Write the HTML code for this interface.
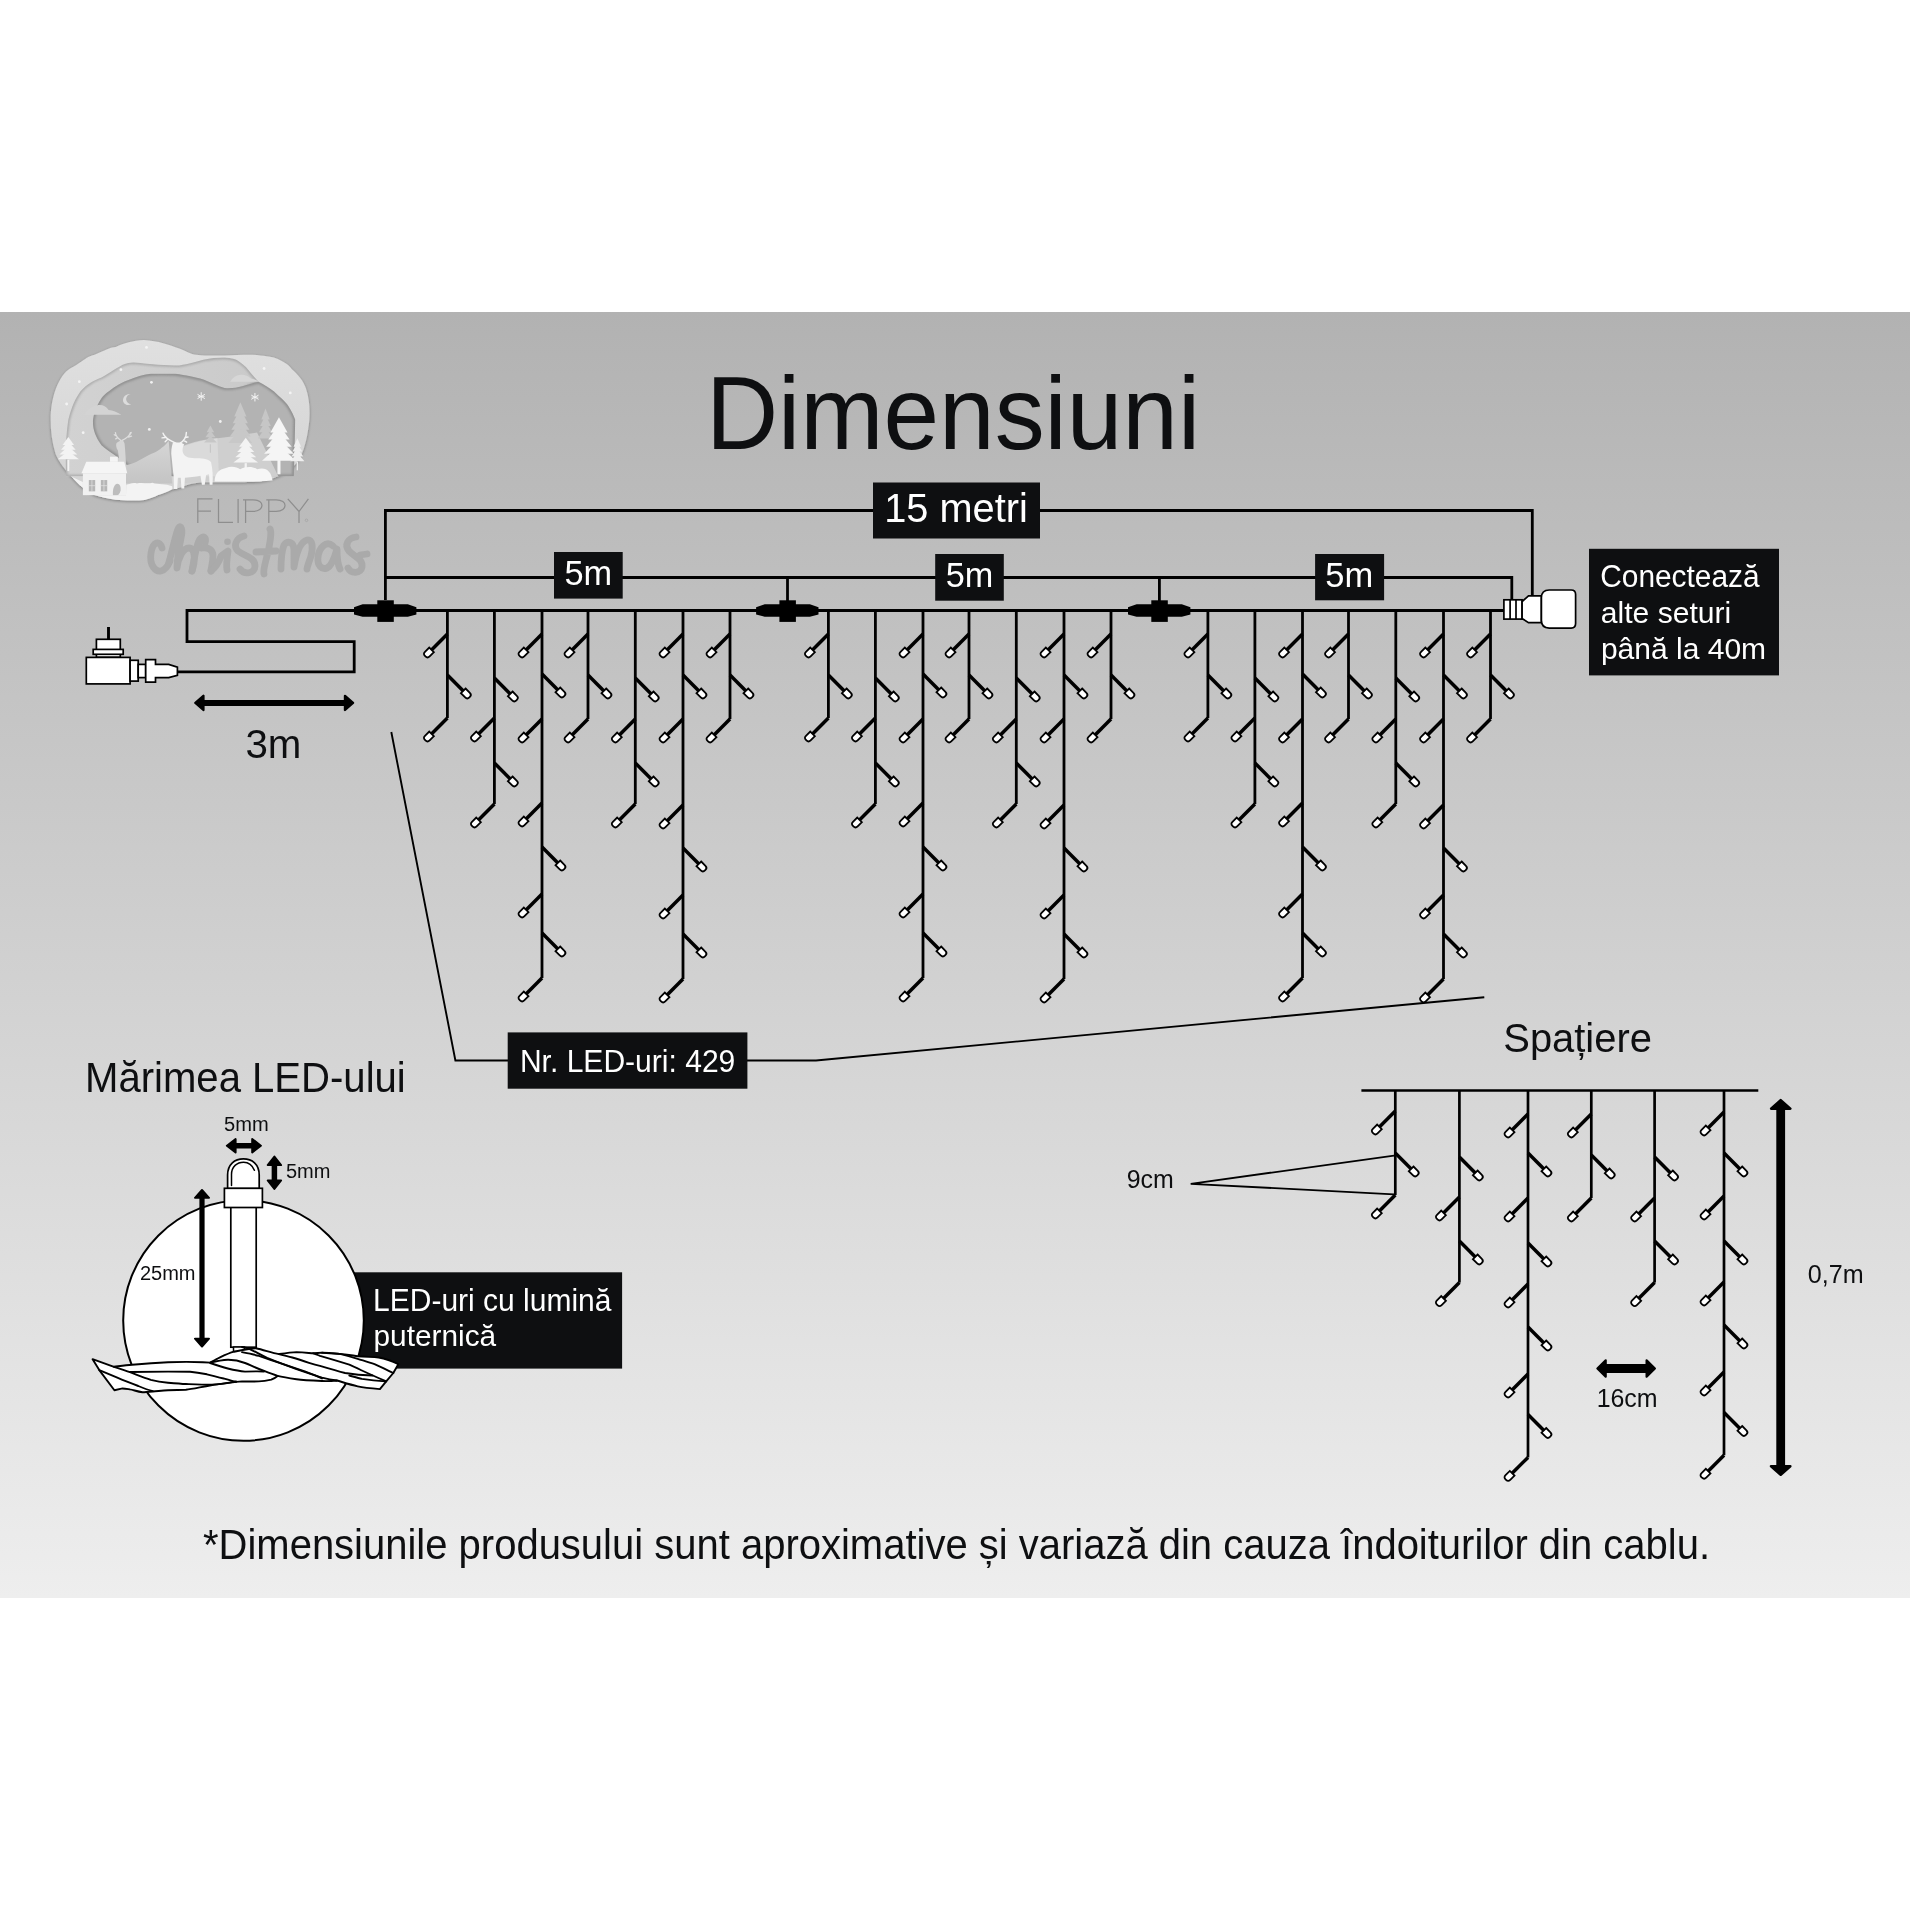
<!DOCTYPE html><html><head><meta charset="utf-8"><style>
html,body{margin:0;padding:0;background:#fff;width:1910px;height:1910px;overflow:hidden}
svg{position:absolute;left:0;top:0;will-change:transform}
text{font-family:"Liberation Sans",sans-serif}
</style></head><body>
<svg width="1910" height="1910" viewBox="0 0 1910 1910">
<defs><linearGradient id="bg" x1="0" y1="0" x2="0" y2="1">
<stop offset="0" stop-color="#b2b2b2"/><stop offset="1" stop-color="#eeeeee"/></linearGradient></defs>
<rect x="0" y="312" width="1910" height="1286" fill="url(#bg)"/>

<g transform="translate(45,335) scale(0.141363)">
<defs><linearGradient id="lg1" x1="0" y1="0" x2="0" y2="1"><stop offset="0" stop-color="#e0e0e0"/><stop offset="1" stop-color="#d2d2d2"/></linearGradient><linearGradient id="lg2" x1="0" y1="0" x2="1" y2="0"><stop offset="0" stop-color="#d2d2d2"/><stop offset="1" stop-color="#cacaca"/></linearGradient><linearGradient id="lg4" x1="0" y1="0" x2="0" y2="1"><stop offset="0" stop-color="#d6d6d6"/><stop offset="1" stop-color="#c4c4c4"/></linearGradient><filter id="blr" x="-20%" y="-20%" width="140%" height="140%"><feGaussianBlur stdDeviation="9"/></filter><filter id="osh" x="-10%" y="-10%" width="120%" height="120%"><feGaussianBlur in="SourceAlpha" stdDeviation="10"/><feOffset dx="0" dy="8"/><feComponentTransfer><feFuncA type="linear" slope="0.35"/></feComponentTransfer><feMerge><feMergeNode/><feMergeNode in="SourceGraphic"/></feMerge></filter></defs>
<path filter="url(#osh)" fill="url(#lg1)" d="M40,600 C40,420 110,260 200,225 C260,190 300,150 350,140 C420,110 470,85 500,85 C560,55 620,40 700,35 C800,40 880,70 950,95 C1000,115 1030,135 1070,140 C1150,148 1210,145 1270,145 C1350,142 1420,138 1470,140 C1550,145 1600,155 1620,160 C1700,190 1730,220 1745,240 C1800,290 1830,330 1845,375 C1870,450 1875,520 1870,600 C1860,700 1845,760 1830,806 C1810,860 1790,890 1770,916 C1740,950 1710,975 1670,991 C1620,1015 1570,1030 1520,1036 C1450,1041 1400,1041 1370,1041 C1250,1041 1180,1041 1120,1041 C1050,1045 1000,1060 970,1076 C940,1085 920,1090 900,1091 C860,1110 830,1125 800,1131 C740,1160 700,1170 650,1171 C580,1172 540,1170 500,1166 C440,1155 400,1145 350,1131 C280,1100 240,1060 200,1016 C140,950 100,900 75,841 C50,760 40,680 40,600 Z"/>
<clipPath id="cpl1"><path d="M40,600 C40,420 110,260 200,225 C260,190 300,150 350,140 C420,110 470,85 500,85 C560,55 620,40 700,35 C800,40 880,70 950,95 C1000,115 1030,135 1070,140 C1150,148 1210,145 1270,145 C1350,142 1420,138 1470,140 C1550,145 1600,155 1620,160 C1700,190 1730,220 1745,240 C1800,290 1830,330 1845,375 C1870,450 1875,520 1870,600 C1860,700 1845,760 1830,806 C1810,860 1790,890 1770,916 C1740,950 1710,975 1670,991 C1620,1015 1570,1030 1520,1036 C1450,1041 1400,1041 1370,1041 C1250,1041 1180,1041 1120,1041 C1050,1045 1000,1060 970,1076 C940,1085 920,1090 900,1091 C860,1110 830,1125 800,1131 C740,1160 700,1170 650,1171 C580,1172 540,1170 500,1166 C440,1155 400,1145 350,1131 C280,1100 240,1060 200,1016 C140,950 100,900 75,841 C50,760 40,680 40,600 Z"/></clipPath>
<clipPath id="cpb"><path d="M150,1000 C140,850 150,700 165,600 C190,500 215,450 250,400 C300,340 350,320 400,300 C470,260 510,230 550,210 C580,200 600,195 625,195 C700,200 750,208 800,210 C860,213 900,215 950,215 C1020,205 1070,190 1120,175 C1180,165 1230,158 1270,160 C1320,165 1350,172 1370,185 C1410,210 1440,245 1460,275 L1510,330 L1400,380 L1000,1000 Z"/></clipPath>
<path fill="url(#lg2)" d="M150,1000 C140,850 150,700 165,600 C190,500 215,450 250,400 C300,340 350,320 400,300 C470,260 510,230 550,210 C580,200 600,195 625,195 C700,200 750,208 800,210 C860,213 900,215 950,215 C1020,205 1070,190 1120,175 C1180,165 1230,158 1270,160 C1320,165 1350,172 1370,185 C1410,210 1440,245 1460,275 L1510,330 L1400,380 L1000,1000 Z"/>
<g clip-path="url(#cpb)"><path d="M150,1000 C140,850 150,700 165,600 C190,500 215,450 250,400 C300,340 350,320 400,300 C470,260 510,230 550,210 C580,200 600,195 625,195 C700,200 750,208 800,210 C860,213 900,215 950,215 C1020,205 1070,190 1120,175 C1180,165 1230,158 1270,160 C1320,165 1350,172 1370,185 C1410,210 1440,245 1460,275 L1510,330 L1400,380 L1000,1000 Z" fill="none" stroke="#8c8c8c" stroke-width="22" filter="url(#blr)" opacity="0.55"/></g>
<clipPath id="cps"><path d="M590,930 C540,870 450,830 400,780 C355,720 335,660 340,600 C350,540 360,510 375,490 C400,440 420,420 450,400 C500,360 550,330 600,315 C650,295 700,280 750,275 C820,272 880,274 920,275 C1000,285 1060,300 1120,315 C1170,335 1220,360 1270,375 C1350,385 1430,350 1510,330 C1550,350 1590,375 1620,400 C1660,440 1700,470 1720,500 C1745,540 1760,570 1770,600 L1760,1000 L900,1000 Z"/></clipPath>
<path fill="#b3b3b3" d="M590,930 C540,870 450,830 400,780 C355,720 335,660 340,600 C350,540 360,510 375,490 C400,440 420,420 450,400 C500,360 550,330 600,315 C650,295 700,280 750,275 C820,272 880,274 920,275 C1000,285 1060,300 1120,315 C1170,335 1220,360 1270,375 C1350,385 1430,350 1510,330 C1550,350 1590,375 1620,400 C1660,440 1700,470 1720,500 C1745,540 1760,570 1770,600 L1760,1000 L900,1000 Z"/>
<g clip-path="url(#cps)"><path d="M590,930 C540,870 450,830 400,780 C355,720 335,660 340,600 C350,540 360,510 375,490 C400,440 420,420 450,400 C500,360 550,330 600,315 C650,295 700,280 750,275 C820,272 880,274 920,275 C1000,285 1060,300 1120,315 C1170,335 1220,360 1270,375 C1350,385 1430,350 1510,330 C1550,350 1590,375 1620,400 C1660,440 1700,470 1720,500 C1745,540 1760,570 1770,600 L1760,1000 L900,1000 Z" fill="none" stroke="#7a7a7a" stroke-width="26" filter="url(#blr)" opacity="0.6"/></g>
<path fill="#d3d3d3" d="M275,565 C300,530 330,500 370,497 C400,490 430,500 450,530 C480,530 510,545 540,565 Z"/>
<path fill="#d7d7d7" d="M1310,330 C1330,300 1350,285 1380,282 C1420,280 1440,295 1460,310 C1480,312 1500,320 1510,330 Z"/>
<path fill="#dcdcdc" d="M605,418 C560,415 545,455 555,475 C565,495 590,500 610,490 C585,485 570,465 575,445 C580,430 590,422 605,418 Z"/>
<line x1="1105.0" y1="405.0" x2="1105.0" y2="465.0" stroke="#f4f4f4" stroke-width="7"/>
<line x1="1131.0" y1="420.0" x2="1079.0" y2="450.0" stroke="#f4f4f4" stroke-width="7"/>
<line x1="1131.0" y1="450.0" x2="1079.0" y2="420.0" stroke="#f4f4f4" stroke-width="7"/>
<line x1="1081.0" y1="435" x2="1129.0" y2="435" stroke="#f4f4f4" stroke-width="5"/>
<line x1="1485.0" y1="410.0" x2="1485.0" y2="470.0" stroke="#f4f4f4" stroke-width="7"/>
<line x1="1511.0" y1="425.0" x2="1459.0" y2="455.0" stroke="#f4f4f4" stroke-width="7"/>
<line x1="1511.0" y1="455.0" x2="1459.0" y2="425.0" stroke="#f4f4f4" stroke-width="7"/>
<line x1="1461.0" y1="440" x2="1509.0" y2="440" stroke="#f4f4f4" stroke-width="5"/>
<circle cx="718" cy="88" r="10" fill="#f4f4f4" opacity="0.95"/>
<circle cx="537" cy="245" r="10" fill="#f4f4f4" opacity="0.95"/>
<circle cx="243" cy="330" r="10" fill="#f4f4f4" opacity="0.95"/>
<circle cx="753" cy="335" r="10" fill="#f4f4f4" opacity="0.95"/>
<circle cx="153" cy="488" r="10" fill="#f4f4f4" opacity="0.95"/>
<circle cx="1550" cy="237" r="10" fill="#f4f4f4" opacity="0.95"/>
<circle cx="1735" cy="410" r="10" fill="#f4f4f4" opacity="0.95"/>
<circle cx="1240" cy="612" r="10" fill="#f4f4f4" opacity="0.95"/>
<circle cx="738" cy="668" r="10" fill="#f4f4f4" opacity="0.95"/>
<circle cx="270" cy="691" r="10" fill="#f4f4f4" opacity="0.95"/>
<path fill="url(#lg4)" d="M480,1000 C520,940 560,925 600,915 C660,900 720,850 780,830 C830,800 860,770 875,750 L900,1050 L480,1050 Z"/>
<path fill="#cfcfcf" d="M950,800 C1000,770 1100,740 1220,731 C1320,720 1420,700 1500,690 L1650,1000 L950,1050 Z"/>
<path fill="#dadada" d="M970,791 C1050,760 1150,740 1220,731 L1230,1000 L980,1000 C960,950 950,880 970,791 Z"/>
<path fill="#c8c8c8" d="M1382,475.0 L1424.84,577.0 L1405.562,577.0 L1358.438,577.0 L1339.16,577.0 Z"/><path fill="#c8c8c8" d="M1382,521.8 L1435.38,623.8 L1411.359,623.8 L1352.641,623.8 L1328.62,623.8 Z"/><path fill="#c8c8c8" d="M1382,568.6 L1445.92,670.6 L1417.156,670.6 L1346.844,670.6 L1318.08,670.6 Z"/><path fill="#c8c8c8" d="M1382,615.4 L1456.46,717.4 L1422.953,717.4 L1341.047,717.4 L1307.54,717.4 Z"/><path fill="#c8c8c8" d="M1382,662.2 L1467.0,764.2 L1428.75,764.2 L1335.25,764.2 L1297.0,764.2 Z"/>
<path fill="#c6c6c6" d="M1560,520.0 L1589.425,598.2 L1576.18375,598.2 L1543.81625,598.2 L1530.575,598.2 Z"/><path fill="#c6c6c6" d="M1560,564.85 L1597.95,643.0500000000001 L1580.8725,643.0500000000001 L1539.1275,643.0500000000001 L1522.05,643.0500000000001 Z"/><path fill="#c6c6c6" d="M1560,609.7 L1606.475,687.9000000000001 L1585.56125,687.9000000000001 L1534.43875,687.9000000000001 L1513.525,687.9000000000001 Z"/><path fill="#c6c6c6" d="M1560,654.55 L1615.0,732.75 L1590.25,732.75 L1529.75,732.75 L1505.0,732.75 Z"/>
<path fill="#c7c7c7" d="M1170,640.0 L1196.4,687.6 L1184.52,687.6 L1155.48,687.6 L1143.6,687.6 Z"/><path fill="#c7c7c7" d="M1170,676.4 L1205.7,724.0 L1189.635,724.0 L1150.365,724.0 L1134.3,724.0 Z"/><path fill="#c7c7c7" d="M1170,712.8 L1215.0,760.4 L1194.75,760.4 L1145.25,760.4 L1125.0,760.4 Z"/><rect fill="#c7c7c7" x="1165.95" y="773.0" width="8.1" height="60"/>
<path fill="#f3f3f3" d="M165,721.0 L205.125,778.8 L187.06875,778.8 L142.93125,778.8 L124.875,778.8 Z"/><path fill="#f3f3f3" d="M165,754.15 L216.75,811.9499999999999 L193.4625,811.9499999999999 L136.5375,811.9499999999999 L113.25,811.9499999999999 Z"/><path fill="#f3f3f3" d="M165,787.3 L228.375,845.0999999999999 L199.85625,845.0999999999999 L130.14375,845.0999999999999 L101.625,845.0999999999999 Z"/><path fill="#f3f3f3" d="M165,820.45 L240.0,878.25 L206.25,878.25 L123.75,878.25 L90.0,878.25 Z"/><rect fill="#f3f3f3" x="158.25" y="882.5" width="13.5" height="80"/>
<path fill="#f3f3f3" d="M1420,726.0 L1466.8125,790.6 L1445.746875,790.6 L1394.253125,790.6 L1373.1875,790.6 Z"/><path fill="#f3f3f3" d="M1420,763.05 L1480.375,827.65 L1453.20625,827.65 L1386.79375,827.65 L1359.625,827.65 Z"/><path fill="#f3f3f3" d="M1420,800.1 L1493.9375,864.7 L1460.665625,864.7 L1379.334375,864.7 L1346.0625,864.7 Z"/><path fill="#f3f3f3" d="M1420,837.15 L1507.5,901.75 L1468.125,901.75 L1371.875,901.75 L1332.5,901.75 Z"/><rect fill="#f3f3f3" x="1412.125" y="906.5" width="15.75" height="90"/>
<path fill="#f5f5f5" d="M1655,581.0 L1715.48,689.8 L1688.264,689.8 L1621.736,689.8 L1594.52,689.8 Z"/><path fill="#f5f5f5" d="M1655,630.92 L1730.36,739.72 L1696.448,739.72 L1613.552,739.72 L1579.64,739.72 Z"/><path fill="#f5f5f5" d="M1655,680.84 L1745.24,789.6400000000001 L1704.632,789.6400000000001 L1605.368,789.6400000000001 L1564.76,789.6400000000001 Z"/><path fill="#f5f5f5" d="M1655,730.76 L1760.12,839.56 L1712.816,839.56 L1597.184,839.56 L1549.88,839.56 Z"/><path fill="#f5f5f5" d="M1655,780.6800000000001 L1775.0,889.48 L1721.0,889.48 L1589.0,889.48 L1535.0,889.48 Z"/><rect fill="#f5f5f5" x="1644.2" y="885.0" width="21.599999999999998" height="100"/>
<path fill="#efefef" d="M1785,731.0 L1811.75,790.5 L1799.7125,790.5 L1770.2875,790.5 L1758.25,790.5 Z"/><path fill="#efefef" d="M1785,765.125 L1819.5,824.625 L1803.975,824.625 L1766.025,824.625 L1750.5,824.625 Z"/><path fill="#efefef" d="M1785,799.25 L1827.25,858.75 L1808.2375,858.75 L1761.7625,858.75 L1742.75,858.75 Z"/><path fill="#efefef" d="M1785,833.375 L1835.0,892.875 L1812.5,892.875 L1757.5,892.875 L1735.0,892.875 Z"/><rect fill="#efefef" x="1780.5" y="897.25" width="9.0" height="60"/>
<path fill="#d6d6d6" d="M520,916 C525,880 520,840 515,816 C505,800 500,780 505,765 C515,755 530,750 540,745 C555,745 565,760 565,790 C568,830 572,880 575,950 L520,960 Z"/>
<g fill="none" stroke="#dedede" stroke-width="9" stroke-linecap="round"><path d="M535,745 C515,730 500,715 498,690 M505,715 L490,705 M512,728 L500,735"/><path d="M545,745 C570,735 595,720 605,690 M590,722 L612,715 M598,708 L610,690"/></g>
<path fill="#f3f3f3" d="M905,760 C895,790 890,830 895,860 C900,900 905,960 910,1000 L912,1090 L935,1090 L940,1010 L960,1010 L965,1085 L985,1085 L990,1010 C1040,1005 1080,1000 1100,995 L1110,1060 L1130,1060 L1140,990 L1160,985 L1165,1060 L1185,1060 C1190,1000 1185,950 1175,900 C1160,880 1120,870 1060,872 C1010,872 985,860 975,830 C970,810 975,790 985,775 C975,765 960,760 945,760 Z"/>
<g fill="none" stroke="#f3f3f3" stroke-width="10" stroke-linecap="round"><path d="M925,765 C890,750 845,730 835,695 M850,725 L828,728 M868,738 L850,755"/><path d="M955,765 C990,745 1000,720 1000,690 M990,725 L1012,722 M980,745 L1002,758"/></g>
<path fill="#f5f5f5" d="M258,978 L292,896 L560,896 L582,978 Z"/>
<rect fill="#f5f5f5" x="460" y="861" width="55" height="36"/>
<rect fill="#f1f1f1" x="268" y="978" width="305" height="155"/>
<g fill="#b6b6b6"><rect x="310" y="1026" width="45" height="80"/><rect x="395" y="1026" width="45" height="80"/></g>
<g stroke="#e6e6e6" stroke-width="5"><line x1="332" y1="1026" x2="332" y2="1106"/><line x1="310" y1="1066" x2="355" y2="1066"/><line x1="417" y1="1026" x2="417" y2="1106"/><line x1="395" y1="1066" x2="440" y2="1066"/></g>
<path fill="#bdbdbd" d="M482,1146 C475,1090 490,1055 512,1053 C530,1053 538,1075 535,1100 C530,1125 515,1135 500,1140 Z"/>
<g clip-path="url(#cpl1)"><path fill="#f3f3f3" d="M180,1000 L268,1040 L268,1133 L573,1133 L575,1060 C600,1055 620,1040 650,1050 C690,1040 720,1055 760,1045 C800,1060 850,1050 900,1070 L905,1250 L150,1250 Z"/></g>
<path fill="#f6f6f6" d="M1200,1036 C1200,980 1230,950 1280,940 C1320,925 1360,935 1380,950 C1420,925 1480,930 1500,950 C1560,930 1600,960 1610,1030 L1520,1036 Z"/>
</g>
<g fill="none" stroke="#8e8e8e" stroke-width="1.25" stroke-linecap="butt"><path d="M197.8,522.9 V498.9 H212.5 M197.8,511.2 H211"/><path d="M218.5,498.9 V522.3 H233"/><path d="M238.1,498.9 V522.9"/><path d="M245.6,522.9 V500.5 M243,499.8 H253 C265,499.8 265,511.3 253,511.3 H246.2"/><path d="M268.8,522.9 V500.5 M266.3,499.8 H276.2 C288,499.8 288,511.3 276.2,511.3 H269.4"/><path d="M287.8,498.9 L299,511.5 L308.4,498.9 M299,511.5 V522.9"/></g>
<circle cx="306.5" cy="520.3" r="1.3" fill="none" stroke="#999" stroke-width="0.5"/>
<g fill="none" stroke="#aaaaaa" stroke-width="6.8" stroke-linecap="round" stroke-linejoin="round"><path d="M162,548 C160,540 153,541 151,553 C149,566 156,572 161,571 C165,570 168,566 170,561"/><path d="M169,562 C173,548 176,532 178.5,528 C181,524 183,530 181,538 C179,548 177,560 177,568 C178,558 183,548 189,548 C194,548 195,556 194,563 C193,568 192,571 192,571"/><path d="M192,571 C194,560 196,545 200,539 C203,535 207,537 205,543 C203,547 200,548 202,548 C207,547 213,549 213,556 C213,562 211,568 211,571"/><path d="M211,571 C215,568 219,562 221,556 L228,551 C227,558 226,565 227,570"/><path d="M244,536 C236,538 233,546 238,551 C244,556 255,557 255,566 C255,574 244,575 240,569"/><path d="M270,529 C272,531 270,545 267,556 C265,564 263,570 264,574 M256,552 L276,551"/><path d="M281,569 C281,560 282,550 284,545 C288,540 294,542 294,550 L294,567 C296,555 300,542 307,540 C313,539 313,548 311,556 C309,562 307,567 307,569"/><path d="M333,546 C326,540 319,548 318,557 C317,566 322,570 327,568 C332,566 335,556 337,549 C337,556 337,563 340,569"/><path d="M356,537 C348,538 344,545 349,551 C355,557 363,559 362,567 C361,574 351,574 348,568 M360,555 L367,554"/></g>
<circle cx="227.5" cy="541.7" r="3.3" fill="#aaaaaa"/>
<text transform="translate(705.90,448.80) scale(0.99937,1.03935)" font-size="100" fill="#0e0f11" >Dimensiuni</text>
<path d="M385.4,600 V510.5 H1532.3 V596" fill="none" stroke="#000" stroke-width="2.8"/>
<rect x="873" y="482.5" width="167" height="56" fill="#0e0f11"/>
<text transform="translate(884.17,522.10) scale(0.39756,0.39756)" font-size="100" fill="#fff" >15 metri</text>
<path d="M385.4,577.5 H1511.8 V600" fill="none" stroke="#000" stroke-width="2.8"/>
<line x1="787.5" y1="577.5" x2="787.5" y2="605" stroke="#000" stroke-width="2.8"/>
<line x1="1159.4" y1="577.5" x2="1159.4" y2="605" stroke="#000" stroke-width="2.8"/>
<rect x="554" y="552" width="68.7" height="46.6" fill="#0e0f11"/>
<rect x="935.2" y="554" width="68.6" height="46.7" fill="#0e0f11"/>
<rect x="1315.1" y="554" width="69.0" height="46.3" fill="#0e0f11"/>
<text transform="translate(564.53,585.00) scale(0.34341,0.34341)" font-size="100" fill="#fff" >5m</text>
<text transform="translate(945.63,587.10) scale(0.34264,0.34264)" font-size="100" fill="#fff" >5m</text>
<text transform="translate(1325.32,587.00) scale(0.34496,0.34496)" font-size="100" fill="#fff" >5m</text>
<path d="M177,671.8 H354.2 V641.6 H187 V610.5 H1504" fill="none" stroke="#000" stroke-width="2.8"/>
<path d="M354.0,607.2 L362.59999999999997,604.3 H407.79999999999995 L416.4,607.2 V614.5 L407.79999999999995,616.8 H362.59999999999997 L354.0,614.5 Z" fill="#000"/><rect x="377.29999999999995" y="600.3" width="16.5" height="21.6" fill="#000"/>
<path d="M756.1,607.2 L764.7,604.3 H809.9 L818.5,607.2 V614.5 L809.9,616.8 H764.7 L756.1,614.5 Z" fill="#000"/><rect x="779.4" y="600.3" width="16.5" height="21.6" fill="#000"/>
<path d="M1128.0,607.2 L1136.6000000000001,604.3 H1181.8000000000002 L1190.4,607.2 V614.5 L1181.8000000000002,616.8 H1136.6000000000001 L1128.0,614.5 Z" fill="#000"/><rect x="1151.3000000000002" y="600.3" width="16.5" height="21.6" fill="#000"/>
<line x1="447.4" y1="610" x2="447.4" y2="718" stroke="#000" stroke-width="2.8"/><g transform="translate(447.40,634.00) rotate(135)"><line x1="0" y1="0" x2="22.50" y2="0" stroke="#000" stroke-width="3.50"/><path d="M22.40,-3.30 H28.43 Q31.40,-3.30 31.40,-0.33 V0.33 Q31.40,3.30 28.43,3.30 H22.40 Z" fill="#fff" stroke="#000" stroke-width="1.80"/></g><g transform="translate(447.40,675.00) rotate(45)"><line x1="0" y1="0" x2="22.50" y2="0" stroke="#000" stroke-width="3.50"/><path d="M22.40,-3.30 H28.43 Q31.40,-3.30 31.40,-0.33 V0.33 Q31.40,3.30 28.43,3.30 H22.40 Z" fill="#fff" stroke="#000" stroke-width="1.80"/></g><g transform="translate(447.40,718.00) rotate(135)"><line x1="0" y1="0" x2="22.50" y2="0" stroke="#000" stroke-width="3.50"/><path d="M22.40,-3.30 H28.43 Q31.40,-3.30 31.40,-0.33 V0.33 Q31.40,3.30 28.43,3.30 H22.40 Z" fill="#fff" stroke="#000" stroke-width="1.80"/></g>
<line x1="494.4" y1="610" x2="494.4" y2="804" stroke="#000" stroke-width="2.8"/><g transform="translate(494.40,678.00) rotate(45)"><line x1="0" y1="0" x2="22.50" y2="0" stroke="#000" stroke-width="3.50"/><path d="M22.40,-3.30 H28.43 Q31.40,-3.30 31.40,-0.33 V0.33 Q31.40,3.30 28.43,3.30 H22.40 Z" fill="#fff" stroke="#000" stroke-width="1.80"/></g><g transform="translate(494.40,718.00) rotate(135)"><line x1="0" y1="0" x2="22.50" y2="0" stroke="#000" stroke-width="3.50"/><path d="M22.40,-3.30 H28.43 Q31.40,-3.30 31.40,-0.33 V0.33 Q31.40,3.30 28.43,3.30 H22.40 Z" fill="#fff" stroke="#000" stroke-width="1.80"/></g><g transform="translate(494.40,763.00) rotate(45)"><line x1="0" y1="0" x2="22.50" y2="0" stroke="#000" stroke-width="3.50"/><path d="M22.40,-3.30 H28.43 Q31.40,-3.30 31.40,-0.33 V0.33 Q31.40,3.30 28.43,3.30 H22.40 Z" fill="#fff" stroke="#000" stroke-width="1.80"/></g><g transform="translate(494.40,804.00) rotate(135)"><line x1="0" y1="0" x2="22.50" y2="0" stroke="#000" stroke-width="3.50"/><path d="M22.40,-3.30 H28.43 Q31.40,-3.30 31.40,-0.33 V0.33 Q31.40,3.30 28.43,3.30 H22.40 Z" fill="#fff" stroke="#000" stroke-width="1.80"/></g>
<line x1="542" y1="610" x2="542" y2="978" stroke="#000" stroke-width="2.8"/><g transform="translate(542.00,634.00) rotate(135)"><line x1="0" y1="0" x2="22.50" y2="0" stroke="#000" stroke-width="3.50"/><path d="M22.40,-3.30 H28.43 Q31.40,-3.30 31.40,-0.33 V0.33 Q31.40,3.30 28.43,3.30 H22.40 Z" fill="#fff" stroke="#000" stroke-width="1.80"/></g><g transform="translate(542.00,674.00) rotate(45)"><line x1="0" y1="0" x2="22.50" y2="0" stroke="#000" stroke-width="3.50"/><path d="M22.40,-3.30 H28.43 Q31.40,-3.30 31.40,-0.33 V0.33 Q31.40,3.30 28.43,3.30 H22.40 Z" fill="#fff" stroke="#000" stroke-width="1.80"/></g><g transform="translate(542.00,719.00) rotate(135)"><line x1="0" y1="0" x2="22.50" y2="0" stroke="#000" stroke-width="3.50"/><path d="M22.40,-3.30 H28.43 Q31.40,-3.30 31.40,-0.33 V0.33 Q31.40,3.30 28.43,3.30 H22.40 Z" fill="#fff" stroke="#000" stroke-width="1.80"/></g><g transform="translate(542.00,803.00) rotate(135)"><line x1="0" y1="0" x2="22.50" y2="0" stroke="#000" stroke-width="3.50"/><path d="M22.40,-3.30 H28.43 Q31.40,-3.30 31.40,-0.33 V0.33 Q31.40,3.30 28.43,3.30 H22.40 Z" fill="#fff" stroke="#000" stroke-width="1.80"/></g><g transform="translate(542.00,847.00) rotate(45)"><line x1="0" y1="0" x2="22.50" y2="0" stroke="#000" stroke-width="3.50"/><path d="M22.40,-3.30 H28.43 Q31.40,-3.30 31.40,-0.33 V0.33 Q31.40,3.30 28.43,3.30 H22.40 Z" fill="#fff" stroke="#000" stroke-width="1.80"/></g><g transform="translate(542.00,894.00) rotate(135)"><line x1="0" y1="0" x2="22.50" y2="0" stroke="#000" stroke-width="3.50"/><path d="M22.40,-3.30 H28.43 Q31.40,-3.30 31.40,-0.33 V0.33 Q31.40,3.30 28.43,3.30 H22.40 Z" fill="#fff" stroke="#000" stroke-width="1.80"/></g><g transform="translate(542.00,933.00) rotate(45)"><line x1="0" y1="0" x2="22.50" y2="0" stroke="#000" stroke-width="3.50"/><path d="M22.40,-3.30 H28.43 Q31.40,-3.30 31.40,-0.33 V0.33 Q31.40,3.30 28.43,3.30 H22.40 Z" fill="#fff" stroke="#000" stroke-width="1.80"/></g><g transform="translate(542.00,978.00) rotate(135)"><line x1="0" y1="0" x2="22.50" y2="0" stroke="#000" stroke-width="3.50"/><path d="M22.40,-3.30 H28.43 Q31.40,-3.30 31.40,-0.33 V0.33 Q31.40,3.30 28.43,3.30 H22.40 Z" fill="#fff" stroke="#000" stroke-width="1.80"/></g>
<line x1="588" y1="610" x2="588" y2="719" stroke="#000" stroke-width="2.8"/><g transform="translate(588.00,634.00) rotate(135)"><line x1="0" y1="0" x2="22.50" y2="0" stroke="#000" stroke-width="3.50"/><path d="M22.40,-3.30 H28.43 Q31.40,-3.30 31.40,-0.33 V0.33 Q31.40,3.30 28.43,3.30 H22.40 Z" fill="#fff" stroke="#000" stroke-width="1.80"/></g><g transform="translate(588.00,675.00) rotate(45)"><line x1="0" y1="0" x2="22.50" y2="0" stroke="#000" stroke-width="3.50"/><path d="M22.40,-3.30 H28.43 Q31.40,-3.30 31.40,-0.33 V0.33 Q31.40,3.30 28.43,3.30 H22.40 Z" fill="#fff" stroke="#000" stroke-width="1.80"/></g><g transform="translate(588.00,719.00) rotate(135)"><line x1="0" y1="0" x2="22.50" y2="0" stroke="#000" stroke-width="3.50"/><path d="M22.40,-3.30 H28.43 Q31.40,-3.30 31.40,-0.33 V0.33 Q31.40,3.30 28.43,3.30 H22.40 Z" fill="#fff" stroke="#000" stroke-width="1.80"/></g>
<line x1="635.3" y1="610" x2="635.3" y2="804" stroke="#000" stroke-width="2.8"/><g transform="translate(635.30,678.00) rotate(45)"><line x1="0" y1="0" x2="22.50" y2="0" stroke="#000" stroke-width="3.50"/><path d="M22.40,-3.30 H28.43 Q31.40,-3.30 31.40,-0.33 V0.33 Q31.40,3.30 28.43,3.30 H22.40 Z" fill="#fff" stroke="#000" stroke-width="1.80"/></g><g transform="translate(635.30,719.00) rotate(135)"><line x1="0" y1="0" x2="22.50" y2="0" stroke="#000" stroke-width="3.50"/><path d="M22.40,-3.30 H28.43 Q31.40,-3.30 31.40,-0.33 V0.33 Q31.40,3.30 28.43,3.30 H22.40 Z" fill="#fff" stroke="#000" stroke-width="1.80"/></g><g transform="translate(635.30,763.00) rotate(45)"><line x1="0" y1="0" x2="22.50" y2="0" stroke="#000" stroke-width="3.50"/><path d="M22.40,-3.30 H28.43 Q31.40,-3.30 31.40,-0.33 V0.33 Q31.40,3.30 28.43,3.30 H22.40 Z" fill="#fff" stroke="#000" stroke-width="1.80"/></g><g transform="translate(635.30,804.00) rotate(135)"><line x1="0" y1="0" x2="22.50" y2="0" stroke="#000" stroke-width="3.50"/><path d="M22.40,-3.30 H28.43 Q31.40,-3.30 31.40,-0.33 V0.33 Q31.40,3.30 28.43,3.30 H22.40 Z" fill="#fff" stroke="#000" stroke-width="1.80"/></g>
<line x1="683" y1="610" x2="683" y2="979" stroke="#000" stroke-width="2.8"/><g transform="translate(683.00,634.00) rotate(135)"><line x1="0" y1="0" x2="22.50" y2="0" stroke="#000" stroke-width="3.50"/><path d="M22.40,-3.30 H28.43 Q31.40,-3.30 31.40,-0.33 V0.33 Q31.40,3.30 28.43,3.30 H22.40 Z" fill="#fff" stroke="#000" stroke-width="1.80"/></g><g transform="translate(683.00,675.00) rotate(45)"><line x1="0" y1="0" x2="22.50" y2="0" stroke="#000" stroke-width="3.50"/><path d="M22.40,-3.30 H28.43 Q31.40,-3.30 31.40,-0.33 V0.33 Q31.40,3.30 28.43,3.30 H22.40 Z" fill="#fff" stroke="#000" stroke-width="1.80"/></g><g transform="translate(683.00,719.00) rotate(135)"><line x1="0" y1="0" x2="22.50" y2="0" stroke="#000" stroke-width="3.50"/><path d="M22.40,-3.30 H28.43 Q31.40,-3.30 31.40,-0.33 V0.33 Q31.40,3.30 28.43,3.30 H22.40 Z" fill="#fff" stroke="#000" stroke-width="1.80"/></g><g transform="translate(683.00,805.00) rotate(135)"><line x1="0" y1="0" x2="22.50" y2="0" stroke="#000" stroke-width="3.50"/><path d="M22.40,-3.30 H28.43 Q31.40,-3.30 31.40,-0.33 V0.33 Q31.40,3.30 28.43,3.30 H22.40 Z" fill="#fff" stroke="#000" stroke-width="1.80"/></g><g transform="translate(683.00,848.00) rotate(45)"><line x1="0" y1="0" x2="22.50" y2="0" stroke="#000" stroke-width="3.50"/><path d="M22.40,-3.30 H28.43 Q31.40,-3.30 31.40,-0.33 V0.33 Q31.40,3.30 28.43,3.30 H22.40 Z" fill="#fff" stroke="#000" stroke-width="1.80"/></g><g transform="translate(683.00,895.00) rotate(135)"><line x1="0" y1="0" x2="22.50" y2="0" stroke="#000" stroke-width="3.50"/><path d="M22.40,-3.30 H28.43 Q31.40,-3.30 31.40,-0.33 V0.33 Q31.40,3.30 28.43,3.30 H22.40 Z" fill="#fff" stroke="#000" stroke-width="1.80"/></g><g transform="translate(683.00,934.00) rotate(45)"><line x1="0" y1="0" x2="22.50" y2="0" stroke="#000" stroke-width="3.50"/><path d="M22.40,-3.30 H28.43 Q31.40,-3.30 31.40,-0.33 V0.33 Q31.40,3.30 28.43,3.30 H22.40 Z" fill="#fff" stroke="#000" stroke-width="1.80"/></g><g transform="translate(683.00,979.00) rotate(135)"><line x1="0" y1="0" x2="22.50" y2="0" stroke="#000" stroke-width="3.50"/><path d="M22.40,-3.30 H28.43 Q31.40,-3.30 31.40,-0.33 V0.33 Q31.40,3.30 28.43,3.30 H22.40 Z" fill="#fff" stroke="#000" stroke-width="1.80"/></g>
<line x1="730" y1="610" x2="730" y2="719" stroke="#000" stroke-width="2.8"/><g transform="translate(730.00,634.00) rotate(135)"><line x1="0" y1="0" x2="22.50" y2="0" stroke="#000" stroke-width="3.50"/><path d="M22.40,-3.30 H28.43 Q31.40,-3.30 31.40,-0.33 V0.33 Q31.40,3.30 28.43,3.30 H22.40 Z" fill="#fff" stroke="#000" stroke-width="1.80"/></g><g transform="translate(730.00,675.00) rotate(45)"><line x1="0" y1="0" x2="22.50" y2="0" stroke="#000" stroke-width="3.50"/><path d="M22.40,-3.30 H28.43 Q31.40,-3.30 31.40,-0.33 V0.33 Q31.40,3.30 28.43,3.30 H22.40 Z" fill="#fff" stroke="#000" stroke-width="1.80"/></g><g transform="translate(730.00,719.00) rotate(135)"><line x1="0" y1="0" x2="22.50" y2="0" stroke="#000" stroke-width="3.50"/><path d="M22.40,-3.30 H28.43 Q31.40,-3.30 31.40,-0.33 V0.33 Q31.40,3.30 28.43,3.30 H22.40 Z" fill="#fff" stroke="#000" stroke-width="1.80"/></g>
<line x1="828.4" y1="610" x2="828.4" y2="718" stroke="#000" stroke-width="2.8"/><g transform="translate(828.40,634.00) rotate(135)"><line x1="0" y1="0" x2="22.50" y2="0" stroke="#000" stroke-width="3.50"/><path d="M22.40,-3.30 H28.43 Q31.40,-3.30 31.40,-0.33 V0.33 Q31.40,3.30 28.43,3.30 H22.40 Z" fill="#fff" stroke="#000" stroke-width="1.80"/></g><g transform="translate(828.40,675.00) rotate(45)"><line x1="0" y1="0" x2="22.50" y2="0" stroke="#000" stroke-width="3.50"/><path d="M22.40,-3.30 H28.43 Q31.40,-3.30 31.40,-0.33 V0.33 Q31.40,3.30 28.43,3.30 H22.40 Z" fill="#fff" stroke="#000" stroke-width="1.80"/></g><g transform="translate(828.40,718.00) rotate(135)"><line x1="0" y1="0" x2="22.50" y2="0" stroke="#000" stroke-width="3.50"/><path d="M22.40,-3.30 H28.43 Q31.40,-3.30 31.40,-0.33 V0.33 Q31.40,3.30 28.43,3.30 H22.40 Z" fill="#fff" stroke="#000" stroke-width="1.80"/></g>
<line x1="875.4" y1="610" x2="875.4" y2="804" stroke="#000" stroke-width="2.8"/><g transform="translate(875.40,678.00) rotate(45)"><line x1="0" y1="0" x2="22.50" y2="0" stroke="#000" stroke-width="3.50"/><path d="M22.40,-3.30 H28.43 Q31.40,-3.30 31.40,-0.33 V0.33 Q31.40,3.30 28.43,3.30 H22.40 Z" fill="#fff" stroke="#000" stroke-width="1.80"/></g><g transform="translate(875.40,718.00) rotate(135)"><line x1="0" y1="0" x2="22.50" y2="0" stroke="#000" stroke-width="3.50"/><path d="M22.40,-3.30 H28.43 Q31.40,-3.30 31.40,-0.33 V0.33 Q31.40,3.30 28.43,3.30 H22.40 Z" fill="#fff" stroke="#000" stroke-width="1.80"/></g><g transform="translate(875.40,763.00) rotate(45)"><line x1="0" y1="0" x2="22.50" y2="0" stroke="#000" stroke-width="3.50"/><path d="M22.40,-3.30 H28.43 Q31.40,-3.30 31.40,-0.33 V0.33 Q31.40,3.30 28.43,3.30 H22.40 Z" fill="#fff" stroke="#000" stroke-width="1.80"/></g><g transform="translate(875.40,804.00) rotate(135)"><line x1="0" y1="0" x2="22.50" y2="0" stroke="#000" stroke-width="3.50"/><path d="M22.40,-3.30 H28.43 Q31.40,-3.30 31.40,-0.33 V0.33 Q31.40,3.30 28.43,3.30 H22.40 Z" fill="#fff" stroke="#000" stroke-width="1.80"/></g>
<line x1="923" y1="610" x2="923" y2="978" stroke="#000" stroke-width="2.8"/><g transform="translate(923.00,634.00) rotate(135)"><line x1="0" y1="0" x2="22.50" y2="0" stroke="#000" stroke-width="3.50"/><path d="M22.40,-3.30 H28.43 Q31.40,-3.30 31.40,-0.33 V0.33 Q31.40,3.30 28.43,3.30 H22.40 Z" fill="#fff" stroke="#000" stroke-width="1.80"/></g><g transform="translate(923.00,674.00) rotate(45)"><line x1="0" y1="0" x2="22.50" y2="0" stroke="#000" stroke-width="3.50"/><path d="M22.40,-3.30 H28.43 Q31.40,-3.30 31.40,-0.33 V0.33 Q31.40,3.30 28.43,3.30 H22.40 Z" fill="#fff" stroke="#000" stroke-width="1.80"/></g><g transform="translate(923.00,719.00) rotate(135)"><line x1="0" y1="0" x2="22.50" y2="0" stroke="#000" stroke-width="3.50"/><path d="M22.40,-3.30 H28.43 Q31.40,-3.30 31.40,-0.33 V0.33 Q31.40,3.30 28.43,3.30 H22.40 Z" fill="#fff" stroke="#000" stroke-width="1.80"/></g><g transform="translate(923.00,803.00) rotate(135)"><line x1="0" y1="0" x2="22.50" y2="0" stroke="#000" stroke-width="3.50"/><path d="M22.40,-3.30 H28.43 Q31.40,-3.30 31.40,-0.33 V0.33 Q31.40,3.30 28.43,3.30 H22.40 Z" fill="#fff" stroke="#000" stroke-width="1.80"/></g><g transform="translate(923.00,847.00) rotate(45)"><line x1="0" y1="0" x2="22.50" y2="0" stroke="#000" stroke-width="3.50"/><path d="M22.40,-3.30 H28.43 Q31.40,-3.30 31.40,-0.33 V0.33 Q31.40,3.30 28.43,3.30 H22.40 Z" fill="#fff" stroke="#000" stroke-width="1.80"/></g><g transform="translate(923.00,894.00) rotate(135)"><line x1="0" y1="0" x2="22.50" y2="0" stroke="#000" stroke-width="3.50"/><path d="M22.40,-3.30 H28.43 Q31.40,-3.30 31.40,-0.33 V0.33 Q31.40,3.30 28.43,3.30 H22.40 Z" fill="#fff" stroke="#000" stroke-width="1.80"/></g><g transform="translate(923.00,933.00) rotate(45)"><line x1="0" y1="0" x2="22.50" y2="0" stroke="#000" stroke-width="3.50"/><path d="M22.40,-3.30 H28.43 Q31.40,-3.30 31.40,-0.33 V0.33 Q31.40,3.30 28.43,3.30 H22.40 Z" fill="#fff" stroke="#000" stroke-width="1.80"/></g><g transform="translate(923.00,978.00) rotate(135)"><line x1="0" y1="0" x2="22.50" y2="0" stroke="#000" stroke-width="3.50"/><path d="M22.40,-3.30 H28.43 Q31.40,-3.30 31.40,-0.33 V0.33 Q31.40,3.30 28.43,3.30 H22.40 Z" fill="#fff" stroke="#000" stroke-width="1.80"/></g>
<line x1="969" y1="610" x2="969" y2="719" stroke="#000" stroke-width="2.8"/><g transform="translate(969.00,634.00) rotate(135)"><line x1="0" y1="0" x2="22.50" y2="0" stroke="#000" stroke-width="3.50"/><path d="M22.40,-3.30 H28.43 Q31.40,-3.30 31.40,-0.33 V0.33 Q31.40,3.30 28.43,3.30 H22.40 Z" fill="#fff" stroke="#000" stroke-width="1.80"/></g><g transform="translate(969.00,675.00) rotate(45)"><line x1="0" y1="0" x2="22.50" y2="0" stroke="#000" stroke-width="3.50"/><path d="M22.40,-3.30 H28.43 Q31.40,-3.30 31.40,-0.33 V0.33 Q31.40,3.30 28.43,3.30 H22.40 Z" fill="#fff" stroke="#000" stroke-width="1.80"/></g><g transform="translate(969.00,719.00) rotate(135)"><line x1="0" y1="0" x2="22.50" y2="0" stroke="#000" stroke-width="3.50"/><path d="M22.40,-3.30 H28.43 Q31.40,-3.30 31.40,-0.33 V0.33 Q31.40,3.30 28.43,3.30 H22.40 Z" fill="#fff" stroke="#000" stroke-width="1.80"/></g>
<line x1="1016.3" y1="610" x2="1016.3" y2="804" stroke="#000" stroke-width="2.8"/><g transform="translate(1016.30,678.00) rotate(45)"><line x1="0" y1="0" x2="22.50" y2="0" stroke="#000" stroke-width="3.50"/><path d="M22.40,-3.30 H28.43 Q31.40,-3.30 31.40,-0.33 V0.33 Q31.40,3.30 28.43,3.30 H22.40 Z" fill="#fff" stroke="#000" stroke-width="1.80"/></g><g transform="translate(1016.30,719.00) rotate(135)"><line x1="0" y1="0" x2="22.50" y2="0" stroke="#000" stroke-width="3.50"/><path d="M22.40,-3.30 H28.43 Q31.40,-3.30 31.40,-0.33 V0.33 Q31.40,3.30 28.43,3.30 H22.40 Z" fill="#fff" stroke="#000" stroke-width="1.80"/></g><g transform="translate(1016.30,763.00) rotate(45)"><line x1="0" y1="0" x2="22.50" y2="0" stroke="#000" stroke-width="3.50"/><path d="M22.40,-3.30 H28.43 Q31.40,-3.30 31.40,-0.33 V0.33 Q31.40,3.30 28.43,3.30 H22.40 Z" fill="#fff" stroke="#000" stroke-width="1.80"/></g><g transform="translate(1016.30,804.00) rotate(135)"><line x1="0" y1="0" x2="22.50" y2="0" stroke="#000" stroke-width="3.50"/><path d="M22.40,-3.30 H28.43 Q31.40,-3.30 31.40,-0.33 V0.33 Q31.40,3.30 28.43,3.30 H22.40 Z" fill="#fff" stroke="#000" stroke-width="1.80"/></g>
<line x1="1064" y1="610" x2="1064" y2="979" stroke="#000" stroke-width="2.8"/><g transform="translate(1064.00,634.00) rotate(135)"><line x1="0" y1="0" x2="22.50" y2="0" stroke="#000" stroke-width="3.50"/><path d="M22.40,-3.30 H28.43 Q31.40,-3.30 31.40,-0.33 V0.33 Q31.40,3.30 28.43,3.30 H22.40 Z" fill="#fff" stroke="#000" stroke-width="1.80"/></g><g transform="translate(1064.00,675.00) rotate(45)"><line x1="0" y1="0" x2="22.50" y2="0" stroke="#000" stroke-width="3.50"/><path d="M22.40,-3.30 H28.43 Q31.40,-3.30 31.40,-0.33 V0.33 Q31.40,3.30 28.43,3.30 H22.40 Z" fill="#fff" stroke="#000" stroke-width="1.80"/></g><g transform="translate(1064.00,719.00) rotate(135)"><line x1="0" y1="0" x2="22.50" y2="0" stroke="#000" stroke-width="3.50"/><path d="M22.40,-3.30 H28.43 Q31.40,-3.30 31.40,-0.33 V0.33 Q31.40,3.30 28.43,3.30 H22.40 Z" fill="#fff" stroke="#000" stroke-width="1.80"/></g><g transform="translate(1064.00,805.00) rotate(135)"><line x1="0" y1="0" x2="22.50" y2="0" stroke="#000" stroke-width="3.50"/><path d="M22.40,-3.30 H28.43 Q31.40,-3.30 31.40,-0.33 V0.33 Q31.40,3.30 28.43,3.30 H22.40 Z" fill="#fff" stroke="#000" stroke-width="1.80"/></g><g transform="translate(1064.00,848.00) rotate(45)"><line x1="0" y1="0" x2="22.50" y2="0" stroke="#000" stroke-width="3.50"/><path d="M22.40,-3.30 H28.43 Q31.40,-3.30 31.40,-0.33 V0.33 Q31.40,3.30 28.43,3.30 H22.40 Z" fill="#fff" stroke="#000" stroke-width="1.80"/></g><g transform="translate(1064.00,895.00) rotate(135)"><line x1="0" y1="0" x2="22.50" y2="0" stroke="#000" stroke-width="3.50"/><path d="M22.40,-3.30 H28.43 Q31.40,-3.30 31.40,-0.33 V0.33 Q31.40,3.30 28.43,3.30 H22.40 Z" fill="#fff" stroke="#000" stroke-width="1.80"/></g><g transform="translate(1064.00,934.00) rotate(45)"><line x1="0" y1="0" x2="22.50" y2="0" stroke="#000" stroke-width="3.50"/><path d="M22.40,-3.30 H28.43 Q31.40,-3.30 31.40,-0.33 V0.33 Q31.40,3.30 28.43,3.30 H22.40 Z" fill="#fff" stroke="#000" stroke-width="1.80"/></g><g transform="translate(1064.00,979.00) rotate(135)"><line x1="0" y1="0" x2="22.50" y2="0" stroke="#000" stroke-width="3.50"/><path d="M22.40,-3.30 H28.43 Q31.40,-3.30 31.40,-0.33 V0.33 Q31.40,3.30 28.43,3.30 H22.40 Z" fill="#fff" stroke="#000" stroke-width="1.80"/></g>
<line x1="1111" y1="610" x2="1111" y2="719" stroke="#000" stroke-width="2.8"/><g transform="translate(1111.00,634.00) rotate(135)"><line x1="0" y1="0" x2="22.50" y2="0" stroke="#000" stroke-width="3.50"/><path d="M22.40,-3.30 H28.43 Q31.40,-3.30 31.40,-0.33 V0.33 Q31.40,3.30 28.43,3.30 H22.40 Z" fill="#fff" stroke="#000" stroke-width="1.80"/></g><g transform="translate(1111.00,675.00) rotate(45)"><line x1="0" y1="0" x2="22.50" y2="0" stroke="#000" stroke-width="3.50"/><path d="M22.40,-3.30 H28.43 Q31.40,-3.30 31.40,-0.33 V0.33 Q31.40,3.30 28.43,3.30 H22.40 Z" fill="#fff" stroke="#000" stroke-width="1.80"/></g><g transform="translate(1111.00,719.00) rotate(135)"><line x1="0" y1="0" x2="22.50" y2="0" stroke="#000" stroke-width="3.50"/><path d="M22.40,-3.30 H28.43 Q31.40,-3.30 31.40,-0.33 V0.33 Q31.40,3.30 28.43,3.30 H22.40 Z" fill="#fff" stroke="#000" stroke-width="1.80"/></g>
<line x1="1207.9" y1="610" x2="1207.9" y2="718" stroke="#000" stroke-width="2.8"/><g transform="translate(1207.90,634.00) rotate(135)"><line x1="0" y1="0" x2="22.50" y2="0" stroke="#000" stroke-width="3.50"/><path d="M22.40,-3.30 H28.43 Q31.40,-3.30 31.40,-0.33 V0.33 Q31.40,3.30 28.43,3.30 H22.40 Z" fill="#fff" stroke="#000" stroke-width="1.80"/></g><g transform="translate(1207.90,675.00) rotate(45)"><line x1="0" y1="0" x2="22.50" y2="0" stroke="#000" stroke-width="3.50"/><path d="M22.40,-3.30 H28.43 Q31.40,-3.30 31.40,-0.33 V0.33 Q31.40,3.30 28.43,3.30 H22.40 Z" fill="#fff" stroke="#000" stroke-width="1.80"/></g><g transform="translate(1207.90,718.00) rotate(135)"><line x1="0" y1="0" x2="22.50" y2="0" stroke="#000" stroke-width="3.50"/><path d="M22.40,-3.30 H28.43 Q31.40,-3.30 31.40,-0.33 V0.33 Q31.40,3.30 28.43,3.30 H22.40 Z" fill="#fff" stroke="#000" stroke-width="1.80"/></g>
<line x1="1254.9" y1="610" x2="1254.9" y2="804" stroke="#000" stroke-width="2.8"/><g transform="translate(1254.90,678.00) rotate(45)"><line x1="0" y1="0" x2="22.50" y2="0" stroke="#000" stroke-width="3.50"/><path d="M22.40,-3.30 H28.43 Q31.40,-3.30 31.40,-0.33 V0.33 Q31.40,3.30 28.43,3.30 H22.40 Z" fill="#fff" stroke="#000" stroke-width="1.80"/></g><g transform="translate(1254.90,718.00) rotate(135)"><line x1="0" y1="0" x2="22.50" y2="0" stroke="#000" stroke-width="3.50"/><path d="M22.40,-3.30 H28.43 Q31.40,-3.30 31.40,-0.33 V0.33 Q31.40,3.30 28.43,3.30 H22.40 Z" fill="#fff" stroke="#000" stroke-width="1.80"/></g><g transform="translate(1254.90,763.00) rotate(45)"><line x1="0" y1="0" x2="22.50" y2="0" stroke="#000" stroke-width="3.50"/><path d="M22.40,-3.30 H28.43 Q31.40,-3.30 31.40,-0.33 V0.33 Q31.40,3.30 28.43,3.30 H22.40 Z" fill="#fff" stroke="#000" stroke-width="1.80"/></g><g transform="translate(1254.90,804.00) rotate(135)"><line x1="0" y1="0" x2="22.50" y2="0" stroke="#000" stroke-width="3.50"/><path d="M22.40,-3.30 H28.43 Q31.40,-3.30 31.40,-0.33 V0.33 Q31.40,3.30 28.43,3.30 H22.40 Z" fill="#fff" stroke="#000" stroke-width="1.80"/></g>
<line x1="1302.5" y1="610" x2="1302.5" y2="978" stroke="#000" stroke-width="2.8"/><g transform="translate(1302.50,634.00) rotate(135)"><line x1="0" y1="0" x2="22.50" y2="0" stroke="#000" stroke-width="3.50"/><path d="M22.40,-3.30 H28.43 Q31.40,-3.30 31.40,-0.33 V0.33 Q31.40,3.30 28.43,3.30 H22.40 Z" fill="#fff" stroke="#000" stroke-width="1.80"/></g><g transform="translate(1302.50,674.00) rotate(45)"><line x1="0" y1="0" x2="22.50" y2="0" stroke="#000" stroke-width="3.50"/><path d="M22.40,-3.30 H28.43 Q31.40,-3.30 31.40,-0.33 V0.33 Q31.40,3.30 28.43,3.30 H22.40 Z" fill="#fff" stroke="#000" stroke-width="1.80"/></g><g transform="translate(1302.50,719.00) rotate(135)"><line x1="0" y1="0" x2="22.50" y2="0" stroke="#000" stroke-width="3.50"/><path d="M22.40,-3.30 H28.43 Q31.40,-3.30 31.40,-0.33 V0.33 Q31.40,3.30 28.43,3.30 H22.40 Z" fill="#fff" stroke="#000" stroke-width="1.80"/></g><g transform="translate(1302.50,803.00) rotate(135)"><line x1="0" y1="0" x2="22.50" y2="0" stroke="#000" stroke-width="3.50"/><path d="M22.40,-3.30 H28.43 Q31.40,-3.30 31.40,-0.33 V0.33 Q31.40,3.30 28.43,3.30 H22.40 Z" fill="#fff" stroke="#000" stroke-width="1.80"/></g><g transform="translate(1302.50,847.00) rotate(45)"><line x1="0" y1="0" x2="22.50" y2="0" stroke="#000" stroke-width="3.50"/><path d="M22.40,-3.30 H28.43 Q31.40,-3.30 31.40,-0.33 V0.33 Q31.40,3.30 28.43,3.30 H22.40 Z" fill="#fff" stroke="#000" stroke-width="1.80"/></g><g transform="translate(1302.50,894.00) rotate(135)"><line x1="0" y1="0" x2="22.50" y2="0" stroke="#000" stroke-width="3.50"/><path d="M22.40,-3.30 H28.43 Q31.40,-3.30 31.40,-0.33 V0.33 Q31.40,3.30 28.43,3.30 H22.40 Z" fill="#fff" stroke="#000" stroke-width="1.80"/></g><g transform="translate(1302.50,933.00) rotate(45)"><line x1="0" y1="0" x2="22.50" y2="0" stroke="#000" stroke-width="3.50"/><path d="M22.40,-3.30 H28.43 Q31.40,-3.30 31.40,-0.33 V0.33 Q31.40,3.30 28.43,3.30 H22.40 Z" fill="#fff" stroke="#000" stroke-width="1.80"/></g><g transform="translate(1302.50,978.00) rotate(135)"><line x1="0" y1="0" x2="22.50" y2="0" stroke="#000" stroke-width="3.50"/><path d="M22.40,-3.30 H28.43 Q31.40,-3.30 31.40,-0.33 V0.33 Q31.40,3.30 28.43,3.30 H22.40 Z" fill="#fff" stroke="#000" stroke-width="1.80"/></g>
<line x1="1348.5" y1="610" x2="1348.5" y2="719" stroke="#000" stroke-width="2.8"/><g transform="translate(1348.50,634.00) rotate(135)"><line x1="0" y1="0" x2="22.50" y2="0" stroke="#000" stroke-width="3.50"/><path d="M22.40,-3.30 H28.43 Q31.40,-3.30 31.40,-0.33 V0.33 Q31.40,3.30 28.43,3.30 H22.40 Z" fill="#fff" stroke="#000" stroke-width="1.80"/></g><g transform="translate(1348.50,675.00) rotate(45)"><line x1="0" y1="0" x2="22.50" y2="0" stroke="#000" stroke-width="3.50"/><path d="M22.40,-3.30 H28.43 Q31.40,-3.30 31.40,-0.33 V0.33 Q31.40,3.30 28.43,3.30 H22.40 Z" fill="#fff" stroke="#000" stroke-width="1.80"/></g><g transform="translate(1348.50,719.00) rotate(135)"><line x1="0" y1="0" x2="22.50" y2="0" stroke="#000" stroke-width="3.50"/><path d="M22.40,-3.30 H28.43 Q31.40,-3.30 31.40,-0.33 V0.33 Q31.40,3.30 28.43,3.30 H22.40 Z" fill="#fff" stroke="#000" stroke-width="1.80"/></g>
<line x1="1395.8" y1="610" x2="1395.8" y2="804" stroke="#000" stroke-width="2.8"/><g transform="translate(1395.80,678.00) rotate(45)"><line x1="0" y1="0" x2="22.50" y2="0" stroke="#000" stroke-width="3.50"/><path d="M22.40,-3.30 H28.43 Q31.40,-3.30 31.40,-0.33 V0.33 Q31.40,3.30 28.43,3.30 H22.40 Z" fill="#fff" stroke="#000" stroke-width="1.80"/></g><g transform="translate(1395.80,719.00) rotate(135)"><line x1="0" y1="0" x2="22.50" y2="0" stroke="#000" stroke-width="3.50"/><path d="M22.40,-3.30 H28.43 Q31.40,-3.30 31.40,-0.33 V0.33 Q31.40,3.30 28.43,3.30 H22.40 Z" fill="#fff" stroke="#000" stroke-width="1.80"/></g><g transform="translate(1395.80,763.00) rotate(45)"><line x1="0" y1="0" x2="22.50" y2="0" stroke="#000" stroke-width="3.50"/><path d="M22.40,-3.30 H28.43 Q31.40,-3.30 31.40,-0.33 V0.33 Q31.40,3.30 28.43,3.30 H22.40 Z" fill="#fff" stroke="#000" stroke-width="1.80"/></g><g transform="translate(1395.80,804.00) rotate(135)"><line x1="0" y1="0" x2="22.50" y2="0" stroke="#000" stroke-width="3.50"/><path d="M22.40,-3.30 H28.43 Q31.40,-3.30 31.40,-0.33 V0.33 Q31.40,3.30 28.43,3.30 H22.40 Z" fill="#fff" stroke="#000" stroke-width="1.80"/></g>
<line x1="1443.5" y1="610" x2="1443.5" y2="979" stroke="#000" stroke-width="2.8"/><g transform="translate(1443.50,634.00) rotate(135)"><line x1="0" y1="0" x2="22.50" y2="0" stroke="#000" stroke-width="3.50"/><path d="M22.40,-3.30 H28.43 Q31.40,-3.30 31.40,-0.33 V0.33 Q31.40,3.30 28.43,3.30 H22.40 Z" fill="#fff" stroke="#000" stroke-width="1.80"/></g><g transform="translate(1443.50,675.00) rotate(45)"><line x1="0" y1="0" x2="22.50" y2="0" stroke="#000" stroke-width="3.50"/><path d="M22.40,-3.30 H28.43 Q31.40,-3.30 31.40,-0.33 V0.33 Q31.40,3.30 28.43,3.30 H22.40 Z" fill="#fff" stroke="#000" stroke-width="1.80"/></g><g transform="translate(1443.50,719.00) rotate(135)"><line x1="0" y1="0" x2="22.50" y2="0" stroke="#000" stroke-width="3.50"/><path d="M22.40,-3.30 H28.43 Q31.40,-3.30 31.40,-0.33 V0.33 Q31.40,3.30 28.43,3.30 H22.40 Z" fill="#fff" stroke="#000" stroke-width="1.80"/></g><g transform="translate(1443.50,805.00) rotate(135)"><line x1="0" y1="0" x2="22.50" y2="0" stroke="#000" stroke-width="3.50"/><path d="M22.40,-3.30 H28.43 Q31.40,-3.30 31.40,-0.33 V0.33 Q31.40,3.30 28.43,3.30 H22.40 Z" fill="#fff" stroke="#000" stroke-width="1.80"/></g><g transform="translate(1443.50,848.00) rotate(45)"><line x1="0" y1="0" x2="22.50" y2="0" stroke="#000" stroke-width="3.50"/><path d="M22.40,-3.30 H28.43 Q31.40,-3.30 31.40,-0.33 V0.33 Q31.40,3.30 28.43,3.30 H22.40 Z" fill="#fff" stroke="#000" stroke-width="1.80"/></g><g transform="translate(1443.50,895.00) rotate(135)"><line x1="0" y1="0" x2="22.50" y2="0" stroke="#000" stroke-width="3.50"/><path d="M22.40,-3.30 H28.43 Q31.40,-3.30 31.40,-0.33 V0.33 Q31.40,3.30 28.43,3.30 H22.40 Z" fill="#fff" stroke="#000" stroke-width="1.80"/></g><g transform="translate(1443.50,934.00) rotate(45)"><line x1="0" y1="0" x2="22.50" y2="0" stroke="#000" stroke-width="3.50"/><path d="M22.40,-3.30 H28.43 Q31.40,-3.30 31.40,-0.33 V0.33 Q31.40,3.30 28.43,3.30 H22.40 Z" fill="#fff" stroke="#000" stroke-width="1.80"/></g><g transform="translate(1443.50,979.00) rotate(135)"><line x1="0" y1="0" x2="22.50" y2="0" stroke="#000" stroke-width="3.50"/><path d="M22.40,-3.30 H28.43 Q31.40,-3.30 31.40,-0.33 V0.33 Q31.40,3.30 28.43,3.30 H22.40 Z" fill="#fff" stroke="#000" stroke-width="1.80"/></g>
<line x1="1490.5" y1="610" x2="1490.5" y2="719" stroke="#000" stroke-width="2.8"/><g transform="translate(1490.50,634.00) rotate(135)"><line x1="0" y1="0" x2="22.50" y2="0" stroke="#000" stroke-width="3.50"/><path d="M22.40,-3.30 H28.43 Q31.40,-3.30 31.40,-0.33 V0.33 Q31.40,3.30 28.43,3.30 H22.40 Z" fill="#fff" stroke="#000" stroke-width="1.80"/></g><g transform="translate(1490.50,675.00) rotate(45)"><line x1="0" y1="0" x2="22.50" y2="0" stroke="#000" stroke-width="3.50"/><path d="M22.40,-3.30 H28.43 Q31.40,-3.30 31.40,-0.33 V0.33 Q31.40,3.30 28.43,3.30 H22.40 Z" fill="#fff" stroke="#000" stroke-width="1.80"/></g><g transform="translate(1490.50,719.00) rotate(135)"><line x1="0" y1="0" x2="22.50" y2="0" stroke="#000" stroke-width="3.50"/><path d="M22.40,-3.30 H28.43 Q31.40,-3.30 31.40,-0.33 V0.33 Q31.40,3.30 28.43,3.30 H22.40 Z" fill="#fff" stroke="#000" stroke-width="1.80"/></g>
<g stroke="#000" stroke-width="1.7" fill="#fff">
<rect x="1503.9" y="599.8" width="18.2" height="19.3"/>
<line x1="1510.1" y1="599.8" x2="1510.1" y2="619.1"/><line x1="1516" y1="599.8" x2="1516" y2="619.1"/>
<path d="M1522.1,601.5 L1528.5,595.8 H1541.4 V622.7 H1528.5 L1522.1,618.5 Z"/>
<path d="M1549.2,590 H1571.2 Q1575.6,590 1575.6,594.5 V623.6 Q1575.6,628.1 1571.2,628.1 H1549.2 Q1541.4,628.1 1541.4,620.3 V597.8 Q1541.4,590 1549.2,590 Z"/>
</g>
<rect x="1589" y="548.8" width="190" height="126.6" fill="#0e0f11"/>
<text transform="translate(1600.21,587.00) scale(0.29868,0.31062)" font-size="100" fill="#fff" >Conectează</text>
<text transform="translate(1600.80,623.20) scale(0.30095,0.30095)" font-size="100" fill="#fff" >alte seturi</text>
<text transform="translate(1600.90,659.00) scale(0.30037,0.30037)" font-size="100" fill="#fff" >până la 40m</text>
<g stroke="#000" stroke-width="1.7" fill="#fff" stroke-linejoin="miter">
<line x1="108.5" y1="627" x2="108.5" y2="640" stroke-width="2.9"/>
<rect x="96.4" y="639.3" width="23.9" height="18"/>
<rect x="93.2" y="649.4" width="30" height="4.9"/>
<rect x="86.3" y="657.4" width="43.8" height="26.5"/>
<rect x="130.1" y="660.3" width="8.1" height="20.8"/>
<rect x="138.2" y="664.4" width="7.5" height="13.2"/>
<path d="M145.7,659.7 H155.5 V664.4 H168.7 L177.4,667.2 V675.3 L168.7,677.6 H155.5 V682.2 H145.7 Z"/>
</g>
<path d="M195.39999999999998,702.9 L203.39999999999998,695.85 V701.1 H345.0 V695.85 L353.0,702.9 L345.0,709.9499999999999 V704.6999999999999 H203.39999999999998 V709.9499999999999 Z" fill="#000" stroke="#000" stroke-width="2.4" stroke-linejoin="round"/>
<text transform="translate(245.39,757.70) scale(0.40310,0.40310)" font-size="100" fill="#0e0f11" >3m</text>
<path d="M391.3,732 L455.4,1060.5 H816 L1484.3,997.3" fill="none" stroke="#000" stroke-width="1.9"/>
<rect x="507.7" y="1032.4" width="239.7" height="56.3" fill="#0e0f11"/>
<text transform="translate(519.89,1072.10) scale(0.30071,0.31274)" font-size="100" fill="#fff" >Nr. LED-uri: 429</text>
<text transform="translate(85.09,1091.80) scale(0.40089,0.41693)" font-size="100" fill="#0e0f11" >Mărimea LED-ului</text>
<rect x="300" y="1272.3" width="322.1" height="96.3" fill="#0e0f11"/>
<circle cx="243.5" cy="1320.5" r="120.3" fill="#fff" stroke="#000" stroke-width="2"/>
<text transform="translate(373.10,1311.00) scale(0.30000,0.31200)" font-size="100" fill="#fff" >LED-uri cu lumină</text>
<text transform="translate(373.51,1346.30) scale(0.29828,0.29828)" font-size="100" fill="#fff" >puternică</text>
<g stroke="#000" stroke-width="1.7" fill="#fff">
<rect x="230.8" y="1206.4" width="25.4" height="140.8"/>
<path d="M227.6,1188.5 V1175 C227.6,1164 235,1158.8 243.4,1158.8 C252,1158.8 259.2,1164 259.2,1175 V1188.5 Z"/>
<path d="M231.5,1185.5 V1174.5 C231.5,1166.5 237,1162.2 243.6,1162.2 C248.5,1162.2 252.5,1165.5 254.4,1170.3" fill="none" stroke-width="1.5" stroke-linecap="round"/>
<rect x="224.4" y="1188.3" width="38" height="19.2"/>
</g>
<path d="M226.9,1145.7 L235.6,1139.0 V1143.95 H252.2 V1139.0 L260.9,1145.7 L252.2,1152.4 V1147.45 H235.6 V1152.4 Z" fill="#000" stroke="#000" stroke-width="2" stroke-linejoin="round"/>
<path d="M274.4,1156.6 L281.09999999999997,1165.1 H276.15 V1180.5 H281.09999999999997 L274.4,1189.0 L267.7,1180.5 H272.65 V1165.1 H267.7 Z" fill="#000" stroke="#000" stroke-width="2" stroke-linejoin="round"/>
<path d="M202,1190.0 L209.0,1197.8 H203.6 V1338.7 H209.0 L202,1346.5 L195.0,1338.7 H200.4 V1197.8 H195.0 Z" fill="#000" stroke="#000" stroke-width="2" stroke-linejoin="round"/>
<text transform="translate(224.00,1130.70) scale(0.20094,0.20094)" font-size="100" fill="#0e0f11" >5mm</text>
<text transform="translate(285.90,1177.60) scale(0.20047,0.20047)" font-size="100" fill="#0e0f11" >5mm</text>
<text transform="translate(139.90,1279.70) scale(0.20037,0.20037)" font-size="100" fill="#0e0f11" >25mm</text>
<g stroke="#000" stroke-width="1.9" fill="none" stroke-linejoin="round" stroke-linecap="round">
<rect x="233.5" y="1347" width="11" height="4.5" fill="#fff" stroke-width="1.5"/>
<path fill="#fff" d="M92.6,1359.2 L114,1366.8 C120,1366 126,1365 132,1364.7 C145,1363.5 158,1362.6 168,1362.2 C176,1361.9 190,1361.6 202.7,1362.2 L210.2,1362.6 C214,1360.5 217,1358.8 219.5,1357.6 C225,1355 230,1352.8 234.1,1351.7 C240,1350.5 250,1348.5 255.8,1348.3 C264,1350 272,1353 278.9,1354.1 C285,1353.2 291,1352.3 296.5,1352.1 C304,1352.5 310,1353.1 313.2,1353.3 C318,1353 320,1352.8 322,1352.6 C340,1353 352,1355.5 357.7,1356.2 C366,1356.8 372,1357 378.6,1357.5 C386,1358.7 393,1361.5 398.3,1364.2 L393.3,1373 L386.2,1381.4 L379.9,1389.1 C372,1388.5 364,1387.8 357.7,1386.4 C350,1384.6 343,1382.3 336.8,1380.5 C332,1381 326,1381.2 322,1381 C312,1380.6 303,1380.2 296.5,1379.3 C289,1378.2 282,1377 277.6,1375.9 C275,1378 272,1379.4 271.3,1379.7 C266,1381 262,1381.4 258.8,1381.4 C252,1381.5 246,1381.5 242,1381.4 L236.2,1381.9 C226,1383.2 218,1384.2 211.1,1385.2 C200,1387.2 192,1389.2 185.9,1389.8 C178,1390.2 172,1390.2 168,1390.2 C162,1390.6 157,1391.2 152.9,1391.5 C148,1392 145,1392.3 142.5,1392.3 C137,1391.5 133,1389.8 129.9,1389.4 C126,1388.8 124,1388.4 121.5,1388.6 L114.4,1390.2 L99.3,1370.1 Z"/>
<path d="M114,1366.8 C120,1368.8 126,1370.8 129.9,1372.2 C137,1374.8 144,1377.5 150.8,1379.8 C157,1381.5 163,1382.3 168,1382.7 C175,1383.3 181,1383.8 185.9,1384 C195,1384.4 203,1384.8 211.1,1384.8 C220,1384.3 228,1383 236.2,1381.4"/>
<path d="M129.9,1372 C145,1371.8 158,1371.6 168,1371.6 C178,1371.6 185,1371.6 190.1,1371.8 C196,1372.5 201,1373.3 206.9,1374.3 C213,1375.8 218,1377.2 223.6,1378.5 C228,1379.8 232,1381 236.2,1381.9"/>
<path d="M99.3,1370.1 C105,1372.5 111,1375 117.3,1377.7 C124,1380.6 131,1383.3 138.3,1386 C143,1388 148,1390 152.9,1391.1"/>
<path d="M210.2,1362.6 C216,1361.2 221,1360 227.8,1359.7 C235,1359.6 240,1361 245,1363 C251,1365.5 257,1368.3 262.9,1370.5 C268,1372.5 273,1374.5 277.6,1375.9"/>
<path d="M210.2,1363 C216,1365 222,1367 227.8,1368.5 C234,1370 240,1371.2 245,1371.6 C252,1371.4 258,1371.3 264,1371.5"/>
<path d="M242,1347 C244,1347.5 246,1348 248.3,1348.3 C254,1351 260,1354.5 267.1,1357.9 C277,1362 287,1365.8 296.5,1369.2 C305,1372.2 314,1375 322,1377.6 C327,1378.8 332,1379.8 336.8,1380.5"/>
<path d="M242,1352.1 C248,1353 253,1354.5 258.8,1355.8 C265,1358 272,1360.5 279.7,1362.9 C288,1365.8 296,1368.5 304.8,1371.3 C312,1374 318,1376.5 322,1378.4"/>
<path d="M278.9,1354.1 C283,1355.3 288,1356.3 292.3,1357.5 C298,1359.2 304,1361.2 309,1362.9 C313,1364.2 317,1365.3 320,1365.9 C328,1368.3 337,1371 345.1,1373 C354,1374.5 364,1375.3 372.4,1375.5"/>
<path d="M313.2,1353.3 C316,1354.3 319,1355.3 320,1355.8 C330,1358.7 340,1361.6 349.3,1364.6 C354,1366.6 358,1368.6 361.9,1370.5 C370,1374.3 378,1377.8 386.2,1381.4"/>
<path d="M322,1352.6 C328,1353.2 335,1353.6 340.9,1354.1 C347,1355.6 352,1357 357.7,1358.8 C363,1360.5 369,1362.3 374.5,1364.2 C381,1367 387,1370 393.3,1373"/>
<path d="M349.3,1375.5 C354,1376.8 358,1378 361.9,1378.9 C370,1380.2 378,1381 385.3,1381.4"/>
</g>
<text transform="translate(1503.30,1051.70) scale(0.39890,0.41486)" font-size="100" fill="#0e0f11" >Spațiere</text>
<line x1="1361.4" y1="1090.5" x2="1758.3" y2="1090.5" stroke="#000" stroke-width="2.7"/>
<line x1="1395.3" y1="1090" x2="1395.3" y2="1195" stroke="#000" stroke-width="2.7"/><g transform="translate(1395.30,1111.00) rotate(135)"><line x1="0" y1="0" x2="22.50" y2="0" stroke="#000" stroke-width="3.50"/><path d="M22.40,-3.30 H28.43 Q31.40,-3.30 31.40,-0.33 V0.33 Q31.40,3.30 28.43,3.30 H22.40 Z" fill="#fff" stroke="#000" stroke-width="1.80"/></g><g transform="translate(1395.30,1153.00) rotate(45)"><line x1="0" y1="0" x2="22.50" y2="0" stroke="#000" stroke-width="3.50"/><path d="M22.40,-3.30 H28.43 Q31.40,-3.30 31.40,-0.33 V0.33 Q31.40,3.30 28.43,3.30 H22.40 Z" fill="#fff" stroke="#000" stroke-width="1.80"/></g><g transform="translate(1395.30,1195.00) rotate(135)"><line x1="0" y1="0" x2="22.50" y2="0" stroke="#000" stroke-width="3.50"/><path d="M22.40,-3.30 H28.43 Q31.40,-3.30 31.40,-0.33 V0.33 Q31.40,3.30 28.43,3.30 H22.40 Z" fill="#fff" stroke="#000" stroke-width="1.80"/></g>
<line x1="1459.4" y1="1090" x2="1459.4" y2="1282.6" stroke="#000" stroke-width="2.7"/><g transform="translate(1459.40,1157.00) rotate(45)"><line x1="0" y1="0" x2="22.50" y2="0" stroke="#000" stroke-width="3.50"/><path d="M22.40,-3.30 H28.43 Q31.40,-3.30 31.40,-0.33 V0.33 Q31.40,3.30 28.43,3.30 H22.40 Z" fill="#fff" stroke="#000" stroke-width="1.80"/></g><g transform="translate(1459.40,1197.00) rotate(135)"><line x1="0" y1="0" x2="22.50" y2="0" stroke="#000" stroke-width="3.50"/><path d="M22.40,-3.30 H28.43 Q31.40,-3.30 31.40,-0.33 V0.33 Q31.40,3.30 28.43,3.30 H22.40 Z" fill="#fff" stroke="#000" stroke-width="1.80"/></g><g transform="translate(1459.40,1241.00) rotate(45)"><line x1="0" y1="0" x2="22.50" y2="0" stroke="#000" stroke-width="3.50"/><path d="M22.40,-3.30 H28.43 Q31.40,-3.30 31.40,-0.33 V0.33 Q31.40,3.30 28.43,3.30 H22.40 Z" fill="#fff" stroke="#000" stroke-width="1.80"/></g><g transform="translate(1459.40,1282.60) rotate(135)"><line x1="0" y1="0" x2="22.50" y2="0" stroke="#000" stroke-width="3.50"/><path d="M22.40,-3.30 H28.43 Q31.40,-3.30 31.40,-0.33 V0.33 Q31.40,3.30 28.43,3.30 H22.40 Z" fill="#fff" stroke="#000" stroke-width="1.80"/></g>
<line x1="1528" y1="1090" x2="1528" y2="1457.4" stroke="#000" stroke-width="2.7"/><g transform="translate(1528.00,1114.00) rotate(135)"><line x1="0" y1="0" x2="22.50" y2="0" stroke="#000" stroke-width="3.50"/><path d="M22.40,-3.30 H28.43 Q31.40,-3.30 31.40,-0.33 V0.33 Q31.40,3.30 28.43,3.30 H22.40 Z" fill="#fff" stroke="#000" stroke-width="1.80"/></g><g transform="translate(1528.00,1153.00) rotate(45)"><line x1="0" y1="0" x2="22.50" y2="0" stroke="#000" stroke-width="3.50"/><path d="M22.40,-3.30 H28.43 Q31.40,-3.30 31.40,-0.33 V0.33 Q31.40,3.30 28.43,3.30 H22.40 Z" fill="#fff" stroke="#000" stroke-width="1.80"/></g><g transform="translate(1528.00,1198.00) rotate(135)"><line x1="0" y1="0" x2="22.50" y2="0" stroke="#000" stroke-width="3.50"/><path d="M22.40,-3.30 H28.43 Q31.40,-3.30 31.40,-0.33 V0.33 Q31.40,3.30 28.43,3.30 H22.40 Z" fill="#fff" stroke="#000" stroke-width="1.80"/></g><g transform="translate(1528.00,1243.00) rotate(45)"><line x1="0" y1="0" x2="22.50" y2="0" stroke="#000" stroke-width="3.50"/><path d="M22.40,-3.30 H28.43 Q31.40,-3.30 31.40,-0.33 V0.33 Q31.40,3.30 28.43,3.30 H22.40 Z" fill="#fff" stroke="#000" stroke-width="1.80"/></g><g transform="translate(1528.00,1284.00) rotate(135)"><line x1="0" y1="0" x2="22.50" y2="0" stroke="#000" stroke-width="3.50"/><path d="M22.40,-3.30 H28.43 Q31.40,-3.30 31.40,-0.33 V0.33 Q31.40,3.30 28.43,3.30 H22.40 Z" fill="#fff" stroke="#000" stroke-width="1.80"/></g><g transform="translate(1528.00,1327.00) rotate(45)"><line x1="0" y1="0" x2="22.50" y2="0" stroke="#000" stroke-width="3.50"/><path d="M22.40,-3.30 H28.43 Q31.40,-3.30 31.40,-0.33 V0.33 Q31.40,3.30 28.43,3.30 H22.40 Z" fill="#fff" stroke="#000" stroke-width="1.80"/></g><g transform="translate(1528.00,1374.00) rotate(135)"><line x1="0" y1="0" x2="22.50" y2="0" stroke="#000" stroke-width="3.50"/><path d="M22.40,-3.30 H28.43 Q31.40,-3.30 31.40,-0.33 V0.33 Q31.40,3.30 28.43,3.30 H22.40 Z" fill="#fff" stroke="#000" stroke-width="1.80"/></g><g transform="translate(1528.00,1414.50) rotate(45)"><line x1="0" y1="0" x2="22.50" y2="0" stroke="#000" stroke-width="3.50"/><path d="M22.40,-3.30 H28.43 Q31.40,-3.30 31.40,-0.33 V0.33 Q31.40,3.30 28.43,3.30 H22.40 Z" fill="#fff" stroke="#000" stroke-width="1.80"/></g><g transform="translate(1528.00,1457.40) rotate(135)"><line x1="0" y1="0" x2="22.50" y2="0" stroke="#000" stroke-width="3.50"/><path d="M22.40,-3.30 H28.43 Q31.40,-3.30 31.40,-0.33 V0.33 Q31.40,3.30 28.43,3.30 H22.40 Z" fill="#fff" stroke="#000" stroke-width="1.80"/></g>
<line x1="1591.3" y1="1090" x2="1591.3" y2="1198" stroke="#000" stroke-width="2.7"/><g transform="translate(1591.30,1114.00) rotate(135)"><line x1="0" y1="0" x2="22.50" y2="0" stroke="#000" stroke-width="3.50"/><path d="M22.40,-3.30 H28.43 Q31.40,-3.30 31.40,-0.33 V0.33 Q31.40,3.30 28.43,3.30 H22.40 Z" fill="#fff" stroke="#000" stroke-width="1.80"/></g><g transform="translate(1591.30,1155.00) rotate(45)"><line x1="0" y1="0" x2="22.50" y2="0" stroke="#000" stroke-width="3.50"/><path d="M22.40,-3.30 H28.43 Q31.40,-3.30 31.40,-0.33 V0.33 Q31.40,3.30 28.43,3.30 H22.40 Z" fill="#fff" stroke="#000" stroke-width="1.80"/></g><g transform="translate(1591.30,1198.00) rotate(135)"><line x1="0" y1="0" x2="22.50" y2="0" stroke="#000" stroke-width="3.50"/><path d="M22.40,-3.30 H28.43 Q31.40,-3.30 31.40,-0.33 V0.33 Q31.40,3.30 28.43,3.30 H22.40 Z" fill="#fff" stroke="#000" stroke-width="1.80"/></g>
<line x1="1654.6" y1="1090" x2="1654.6" y2="1282.6" stroke="#000" stroke-width="2.7"/><g transform="translate(1654.60,1157.00) rotate(45)"><line x1="0" y1="0" x2="22.50" y2="0" stroke="#000" stroke-width="3.50"/><path d="M22.40,-3.30 H28.43 Q31.40,-3.30 31.40,-0.33 V0.33 Q31.40,3.30 28.43,3.30 H22.40 Z" fill="#fff" stroke="#000" stroke-width="1.80"/></g><g transform="translate(1654.60,1198.00) rotate(135)"><line x1="0" y1="0" x2="22.50" y2="0" stroke="#000" stroke-width="3.50"/><path d="M22.40,-3.30 H28.43 Q31.40,-3.30 31.40,-0.33 V0.33 Q31.40,3.30 28.43,3.30 H22.40 Z" fill="#fff" stroke="#000" stroke-width="1.80"/></g><g transform="translate(1654.60,1241.00) rotate(45)"><line x1="0" y1="0" x2="22.50" y2="0" stroke="#000" stroke-width="3.50"/><path d="M22.40,-3.30 H28.43 Q31.40,-3.30 31.40,-0.33 V0.33 Q31.40,3.30 28.43,3.30 H22.40 Z" fill="#fff" stroke="#000" stroke-width="1.80"/></g><g transform="translate(1654.60,1282.60) rotate(135)"><line x1="0" y1="0" x2="22.50" y2="0" stroke="#000" stroke-width="3.50"/><path d="M22.40,-3.30 H28.43 Q31.40,-3.30 31.40,-0.33 V0.33 Q31.40,3.30 28.43,3.30 H22.40 Z" fill="#fff" stroke="#000" stroke-width="1.80"/></g>
<line x1="1724" y1="1090" x2="1724" y2="1455.3" stroke="#000" stroke-width="2.7"/><g transform="translate(1724.00,1112.00) rotate(135)"><line x1="0" y1="0" x2="22.50" y2="0" stroke="#000" stroke-width="3.50"/><path d="M22.40,-3.30 H28.43 Q31.40,-3.30 31.40,-0.33 V0.33 Q31.40,3.30 28.43,3.30 H22.40 Z" fill="#fff" stroke="#000" stroke-width="1.80"/></g><g transform="translate(1724.00,1153.00) rotate(45)"><line x1="0" y1="0" x2="22.50" y2="0" stroke="#000" stroke-width="3.50"/><path d="M22.40,-3.30 H28.43 Q31.40,-3.30 31.40,-0.33 V0.33 Q31.40,3.30 28.43,3.30 H22.40 Z" fill="#fff" stroke="#000" stroke-width="1.80"/></g><g transform="translate(1724.00,1196.00) rotate(135)"><line x1="0" y1="0" x2="22.50" y2="0" stroke="#000" stroke-width="3.50"/><path d="M22.40,-3.30 H28.43 Q31.40,-3.30 31.40,-0.33 V0.33 Q31.40,3.30 28.43,3.30 H22.40 Z" fill="#fff" stroke="#000" stroke-width="1.80"/></g><g transform="translate(1724.00,1241.00) rotate(45)"><line x1="0" y1="0" x2="22.50" y2="0" stroke="#000" stroke-width="3.50"/><path d="M22.40,-3.30 H28.43 Q31.40,-3.30 31.40,-0.33 V0.33 Q31.40,3.30 28.43,3.30 H22.40 Z" fill="#fff" stroke="#000" stroke-width="1.80"/></g><g transform="translate(1724.00,1282.00) rotate(135)"><line x1="0" y1="0" x2="22.50" y2="0" stroke="#000" stroke-width="3.50"/><path d="M22.40,-3.30 H28.43 Q31.40,-3.30 31.40,-0.33 V0.33 Q31.40,3.30 28.43,3.30 H22.40 Z" fill="#fff" stroke="#000" stroke-width="1.80"/></g><g transform="translate(1724.00,1325.00) rotate(45)"><line x1="0" y1="0" x2="22.50" y2="0" stroke="#000" stroke-width="3.50"/><path d="M22.40,-3.30 H28.43 Q31.40,-3.30 31.40,-0.33 V0.33 Q31.40,3.30 28.43,3.30 H22.40 Z" fill="#fff" stroke="#000" stroke-width="1.80"/></g><g transform="translate(1724.00,1372.00) rotate(135)"><line x1="0" y1="0" x2="22.50" y2="0" stroke="#000" stroke-width="3.50"/><path d="M22.40,-3.30 H28.43 Q31.40,-3.30 31.40,-0.33 V0.33 Q31.40,3.30 28.43,3.30 H22.40 Z" fill="#fff" stroke="#000" stroke-width="1.80"/></g><g transform="translate(1724.00,1412.50) rotate(45)"><line x1="0" y1="0" x2="22.50" y2="0" stroke="#000" stroke-width="3.50"/><path d="M22.40,-3.30 H28.43 Q31.40,-3.30 31.40,-0.33 V0.33 Q31.40,3.30 28.43,3.30 H22.40 Z" fill="#fff" stroke="#000" stroke-width="1.80"/></g><g transform="translate(1724.00,1455.30) rotate(135)"><line x1="0" y1="0" x2="22.50" y2="0" stroke="#000" stroke-width="3.50"/><path d="M22.40,-3.30 H28.43 Q31.40,-3.30 31.40,-0.33 V0.33 Q31.40,3.30 28.43,3.30 H22.40 Z" fill="#fff" stroke="#000" stroke-width="1.80"/></g>
<path d="M1394,1155.6 L1190.7,1183.8 L1394,1194.3" fill="none" stroke="#000" stroke-width="1.8"/>
<text transform="translate(1126.70,1187.60) scale(0.24916,0.24916)" font-size="100" fill="#0e0f11" >9cm</text>
<path d="M1780.7,1100.1 L1790.3,1108.6 H1783.8 V1466.2 H1790.3 L1780.7,1474.7 L1771.1000000000001,1466.2 H1777.6000000000001 V1108.6 H1771.1000000000001 Z" fill="#000" stroke="#000" stroke-width="2.6" stroke-linejoin="round"/>
<text transform="translate(1807.79,1282.70) scale(0.25142,0.25142)" font-size="100" fill="#0e0f11" >0,7m</text>
<path d="M1597.3999999999999,1368.5 L1605.6999999999998,1360.35 V1365.1 H1646.6000000000001 V1360.35 L1654.9,1368.5 L1646.6000000000001,1376.65 V1371.9 H1605.6999999999998 V1376.65 Z" fill="#000" stroke="#000" stroke-width="2.2" stroke-linejoin="round"/>
<text transform="translate(1596.65,1406.80) scale(0.24935,0.24935)" font-size="100" fill="#0e0f11" >16cm</text>
<text transform="translate(203.00,1559.00) scale(0.40008,0.41608)" font-size="100" fill="#0e0f11" >*Dimensiunile produsului sunt aproximative și variază din cauza îndoiturilor din cablu.</text>
</svg></body></html>
